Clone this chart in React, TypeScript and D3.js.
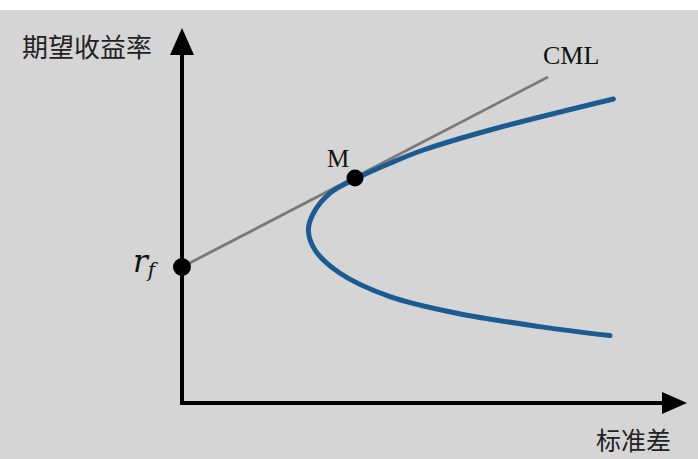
import React from 'react';
import * as d3 from 'd3';

// values (sigma in %, expected return in %)
const riskFree = 6.8;
const marketPoint = [8.65, 11.25];
const cmlEnd = [18.3, 16.3];
const frontierSigma = [21.57, 15.4, 12.07, 10.4, 8.65, 7.4, 6.57, 6.32, 6.65, 7.9, 10.4, 13.74, 17.9, 21.4];
const frontierReturn = [15.2, 13.65, 12.65, 11.99, 11.2, 10.49, 9.49, 8.65, 7.65, 6.49, 5.32, 4.49, 3.82, 3.37];
const yLabel = '期望收益率';
const xLabel = '标准差';

const W = 698;
const H = 459;

const App = () => {
  const x = d3.scaleLinear().domain([0, 25]).range([182, 682]);
  const y = d3.scaleLinear().domain([0, 18]).range([403, 43]);

  const frontier = frontierSigma.map((s, i) => [s, frontierReturn[i]]);
  const line = d3.line<number[]>()
    .x(d => x(d[0]))
    .y(d => y(d[1]))
    .curve(d3.curveCatmullRom.alpha(0.5));

  const x0 = x(0);
  const y0 = y(0);

  return (
    <svg width={W} height={H} style={{ position: 'absolute', left: 0, top: 0 }}>
      <rect width={W} height={H} fill="#ffffff" />
      <rect x={0} y={10} width={W} height={H - 10} fill="#d5d5d5" />

      {/* axes */}
      <line x1={x0} y1={54} x2={x0} y2={y0 + 2} stroke="#000" strokeWidth={4} />
      <polygon points={`${x0},28 ${x0 - 12},55 ${x0 + 12},55`} fill="#000" />
      <line x1={x0 - 2} y1={y0} x2={664} y2={y0} stroke="#000" strokeWidth={4} />
      <polygon points={`687,${y0} 662,${y0 - 11} 662,${y0 + 11}`} fill="#000" />

      {/* capital market line */}
      <line x1={x(0)} y1={y(riskFree)} x2={x(cmlEnd[0])} y2={y(cmlEnd[1])}
        stroke="#7a7a7a" strokeWidth={2.8} />

      {/* efficient frontier */}
      <path d={line(frontier) ?? ''} fill="none" stroke="#1c5b92" strokeWidth={5}
        strokeLinecap="round" />

      <circle cx={x(0)} cy={y(riskFree)} r={9} fill="#000" />
      <circle cx={x(marketPoint[0])} cy={y(marketPoint[1])} r={8.5} fill="#000" />

      <text x={x(marketPoint[0]) - 17} y={y(marketPoint[1]) - 11} textAnchor="middle"
        fontFamily="Liberation Serif, serif" fontSize={25} fill="#111">M</text>
      <text x={543} y={64} fontFamily="Liberation Serif, serif" fontSize={26} fill="#111">CML</text>
      <text x={133} y={272} fontFamily="DejaVu Serif, serif" fontStyle="italic" fontSize={31} fill="#111">
        r<tspan fontSize={20} dy={5}>f</tspan>
      </text>

      <text x={22} y={57} fontFamily="Noto Sans CJK SC" fontSize={26} fill="#222">{yLabel}</text>
      <text x={596} y={450} fontFamily="Noto Sans CJK SC" fontSize={25} fill="#222">{xLabel}</text>
    </svg>
  );
};

export default App;
